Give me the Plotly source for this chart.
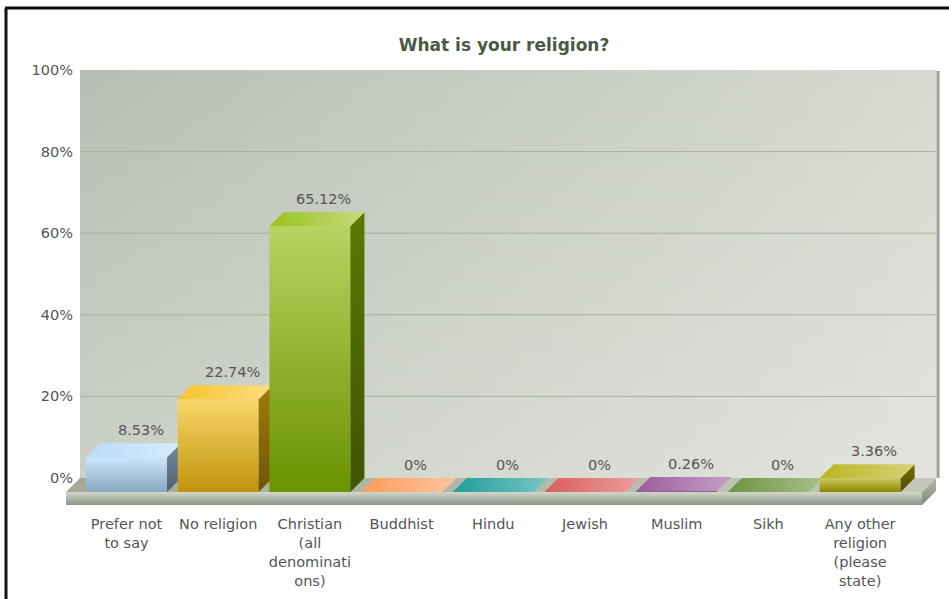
import plotly.graph_objects as go

# ---- data -------------------------------------------------------------
TITLE = "What is your religion?"
CATEGORIES = [
    "Prefer not to say", "No religion", "Christian (all denominations)",
    "Buddhist", "Hindu", "Jewish", "Muslim", "Sikh",
    "Any other religion (please state)",
]
CATEGORY_LABELS = [
    "Prefer not<br>to say", "No religion", "Christian<br>(all<br>denominati<br>ons)",
    "Buddhist", "Hindu", "Jewish", "Muslim", "Sikh",
    "Any other<br>religion<br>(please<br>state)",
]
PERCENTAGES = [8.53, 22.74, 65.12, 0, 0, 0, 0.26, 0, 3.36]
BAR_COLORS = ["#AFD8F8", "#F6BD0F", "#8BBA00", "#FF8E46", "#008E8E",
              "#D64646", "#8E468E", "#588526", "#B3AA00"]
Y_TICKS = [0, 20, 40, 60, 80, 100]
Y_TICK_LABELS = ["0%", "20%", "40%", "60%", "80%", "100%"]

# ---- page geometry (pixels) -------------------------------------------
W, H = 949, 599
PLOT_L, PLOT_R, PLOT_T, PLOT_B = 66, 942, 62, 508
SLOT_PX = 91.7          # distance between neighbouring columns
PCT_PX = 4.08           # pixels per percentage point
ORIGIN_X_PX = 126.5     # front centre of the first column
ORIGIN_Y_PX = 492       # front edge of the floor (0 %)
DEPTH_PX = 14           # 3-D depth of columns, floor and wall offset
BAR_PX = 81             # column front width
SLAB_PX = 13            # thickness of the floor slab
FLOOR_L_PX, FLOOR_R_PX = 66, 922
LABEL_SIZE = 14.5

x_range = [(PLOT_L - ORIGIN_X_PX) / SLOT_PX, (PLOT_R - ORIGIN_X_PX) / SLOT_PX]
y_range = [(ORIGIN_Y_PX - PLOT_B) / PCT_PX, (ORIGIN_Y_PX - PLOT_T) / PCT_PX]

DX = DEPTH_PX / SLOT_PX
DY = DEPTH_PX / PCT_PX
HALF = BAR_PX / SLOT_PX / 2
SLAB = SLAB_PX / PCT_PX
FL = (FLOOR_L_PX - ORIGIN_X_PX) / SLOT_PX
FR = (FLOOR_R_PX - ORIGIN_X_PX) / SLOT_PX


def px_x(px):
    return (px - PLOT_L) / (PLOT_R - PLOT_L)


def px_y(py):
    return (PLOT_B - py) / (PLOT_B - PLOT_T)


def hex_rgb(c):
    c = c.lstrip("#")
    return tuple(int(c[i:i + 2], 16) for i in (0, 2, 4))


def mix(c, target, t):
    r, g, b = hex_rgb(c)
    tr, tg, tb = target
    return "rgb(%d,%d,%d)" % (round(r + (tr - r) * t), round(g + (tg - g) * t),
                              round(b + (tb - b) * t))


def lighten(c, t):
    return mix(c, (255, 255, 255), t)


def darken(c, t):
    return mix(c, (0, 0, 0), t)


def face(xs, ys, direction, c_low, c_high):
    """Filled polygon with a linear gradient (low -> high along direction)."""
    return go.Scatter(
        x=list(xs) + [xs[0]], y=list(ys) + [ys[0]],
        mode="lines", fill="toself", line=dict(width=0),
        fillgradient=dict(type=direction, colorscale=[[0, c_low], [1, c_high]]),
        hoverinfo="skip", showlegend=False,
    )


fig = go.Figure()

# back wall
wl, wr = FL + DX, FR + DX
wall_x = [wl, wr, wr, wl]
wall_y = [DY, DY, 100 + DY, 100 + DY]
fig.add_trace(face(wall_x, wall_y, "horizontal", "#b8bfb2", "#d6dad0"))
fig.add_trace(face(wall_x, wall_y, "vertical",
                   "rgba(255,255,255,0.28)", "rgba(255,255,255,0)"))

# grid lines on the wall
for t in Y_TICKS[1:-1]:
    fig.add_trace(go.Scatter(
        x=[wl, wr], y=[t + DY, t + DY], mode="lines",
        line=dict(color="#a7b19c", width=1),
        hoverinfo="skip", showlegend=False))

# wall right edge
edge_x = wr + 2 / SLOT_PX
fig.add_trace(go.Scatter(
    x=[edge_x, edge_x], y=[DY, 100 + DY - 1 / PCT_PX], mode="lines",
    line=dict(color="#999d94", width=3),
    hoverinfo="skip", showlegend=False))

# floor: top, front slab, right side
fig.add_trace(face([FL, FR, FR + DX, FL + DX], [0, 0, DY, DY],
                   "horizontal", "#a3aa97", "#c3c8ba"))
fig.add_trace(face([FL, FR, FR, FL], [-SLAB, -SLAB, 0, 0],
                   "vertical", "#8d9786", "#d2d7ca"))
fig.add_trace(face([FR, FR + DX, FR + DX, FR], [-SLAB, -SLAB + DY, DY, 0],
                   "vertical", "#7f8878", "#b4bbab"))

# columns
for i, (v, col) in enumerate(zip(PERCENTAGES, BAR_COLORS)):
    L, R = i - HALF, i + HALF
    if v > 0:
        # front face
        fig.add_trace(face([L, R, R, L], [0, 0, v, v], "vertical",
                           darken(col, 0.22), lighten(col, 0.38)))
        # side face
        fig.add_trace(face([R, R + DX, R + DX, R], [0, DY, v + DY, v], "vertical",
                           darken(col, 0.55), darken(col, 0.35)))
    # top face
    fig.add_trace(face([L, R, R + DX, L + DX], [v, v, v + DY, v + DY], "horizontal",
                       lighten(col, 0.12), lighten(col, 0.48)))

# value labels above each column
annotations = []
for i, v in enumerate(PERCENTAGES):
    annotations.append(dict(
        x=i + DX, y=v + DY, xref="x", yref="y",
        text=f"{v:g}%", showarrow=False, yanchor="bottom", yshift=3,
        font=dict(family="DejaVu Sans", size=LABEL_SIZE, color="#555555")))

# outer frame (left and top edges)
shapes = [
    dict(type="line", xref="paper", yref="paper",
         x0=px_x(6), x1=px_x(6), y0=px_y(8), y1=px_y(H + 2),
         line=dict(color="#111111", width=3)),
    dict(type="line", xref="paper", yref="paper",
         x0=px_x(5), x1=px_x(W + 2), y0=px_y(8), y1=px_y(8),
         line=dict(color="#111111", width=3)),
]

fig.update_layout(
    width=W, height=H,
    margin=dict(l=PLOT_L, r=W - PLOT_R, t=PLOT_T, b=H - PLOT_B, pad=0),
    paper_bgcolor="white", plot_bgcolor="rgba(0,0,0,0)",
    font=dict(family="DejaVu Sans", size=LABEL_SIZE, color="#555555"),
    title=dict(text=TITLE, x=0.5, xref="paper", xanchor="center",
               y=1 - 45 / H, yref="container", yanchor="middle",
               font=dict(family="DejaVu Sans", size=17, weight="bold",
                         color="#4d5847")),
    xaxis=dict(range=x_range, showgrid=False, zeroline=False, showline=False,
               tickmode="array", tickvals=list(range(len(CATEGORIES))),
               ticktext=CATEGORY_LABELS, ticks="outside", ticklen=3,
               tickcolor="rgba(0,0,0,0)",
               tickfont=dict(size=LABEL_SIZE, color="#555555"),
               fixedrange=True),
    yaxis=dict(range=y_range, showgrid=False, zeroline=False, showline=False,
               tickmode="array", tickvals=[t + DY for t in Y_TICKS],
               ticktext=Y_TICK_LABELS, ticks="", ticklabelstandoff=-8,
               tickfont=dict(size=LABEL_SIZE, color="#555555"), fixedrange=True),
    annotations=annotations,
    shapes=shapes,
    showlegend=False,
)

fig.write_html("out.html")
